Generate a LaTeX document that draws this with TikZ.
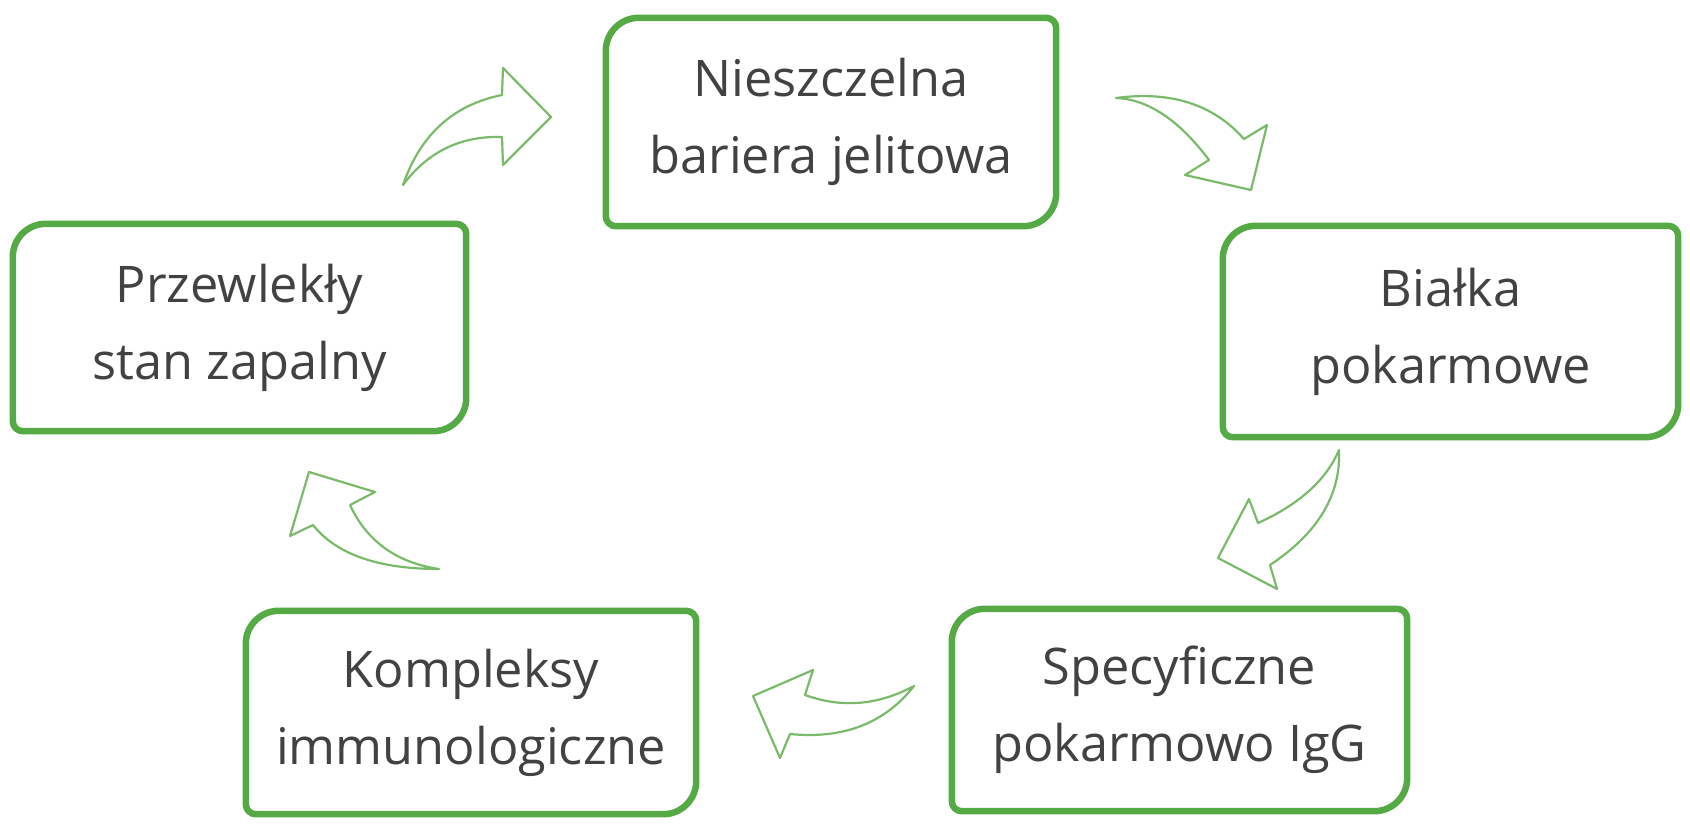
\documentclass[tikz,border=0pt]{standalone}
\usepackage{fontspec}
\setmainfont{Open Sans}
\definecolor{boxgreen}{RGB}{86,170,70}
\definecolor{arrowgreen}{RGB}{122,186,106}
\definecolor{txtgrey}{RGB}{66,66,66}
\tikzset{
  stage/.style={minimum width=#1, minimum height=205pt, inner sep=0pt, align=center,
    font=\fontsize{50.5}{77}\selectfont, text=txtgrey},
  boxline/.style={draw=boxgreen, line width=6.5pt},
  arrowline/.style={draw=arrowgreen, line width=2.2pt, line join=round}
}
\newcommand\stagebox[1]{\draw[boxline] (#1.west) [rounded corners=33pt] |- (#1.north) [rounded corners=10pt] -| (#1.east) [rounded corners=33pt] |- (#1.south) [rounded corners=10pt] -| (#1.west);}
\begin{document}
\begin{tikzpicture}[x=1pt,y=-1pt]
\useasboundingbox (0,0) rectangle (1690,838);
% boxes
\node[stage=450pt, minimum height=208pt] (n1) at (831,122) {Nieszczelna\\bariera jelitowa};
\node[stage=455pt, minimum height=211pt] (n2) at (1450.5,331.5) {Białka\\pokarmowe};
\node[stage=455pt, minimum height=202pt] (n3) at (1179.5,710) {Specyficzne\\pokarmowo IgG};
\node[stage=450pt, minimum height=203pt] (n4) at (471,712.5) {Kompleksy\\immunologiczne};
\node[stage=453pt, minimum height=207pt] (n5) at (239.5,327.5) {Przewlekły\\stan zapalny};
\stagebox{n1}\stagebox{n2}\stagebox{n3}\stagebox{n4}\stagebox{n5}
% arrow A
\draw[arrowline] (403,185) .. controls (420.3,134.7) and (453.3,104.7) .. (502,95)
  -- (503,68) -- (551,117) -- (503,165) -- (502,137)
  .. controls (460.7,135.7) and (427.7,151.7) .. cycle;
% arrow B
\draw[arrowline] (1116,98) .. controls (1170.7,90.7) and (1213.3,104.3) .. (1244,139)
  -- (1267,125) -- (1251,190) -- (1185,175) -- (1209,160)
  .. controls (1179,120) and (1148,99.3) .. cycle;
% arrow C
\draw[arrowline] (1339,450) .. controls (1341,494.7) and (1318,533) .. (1270,565)
  -- (1277,589) -- (1218,558) -- (1249,499) -- (1258,523)
  .. controls (1299.3,504.3) and (1326.3,480) .. cycle;
% arrow D
\draw[arrowline] (914,686) .. controls (878,705.3) and (841.7,708.3) .. (805,695)
  -- (813,670) -- (753,696) -- (780,758) -- (790,734)
  .. controls (843.3,739.3) and (884.7,723.3) .. cycle;
% arrow E
\draw[arrowline] (439,569) .. controls (378.3,569) and (336.3,554.3) .. (313,525)
  -- (290,536) -- (309,472) -- (375,492) -- (350,505)
  .. controls (366.9,541.3) and (396.6,562.7) .. cycle;
\end{tikzpicture}
\end{document}
